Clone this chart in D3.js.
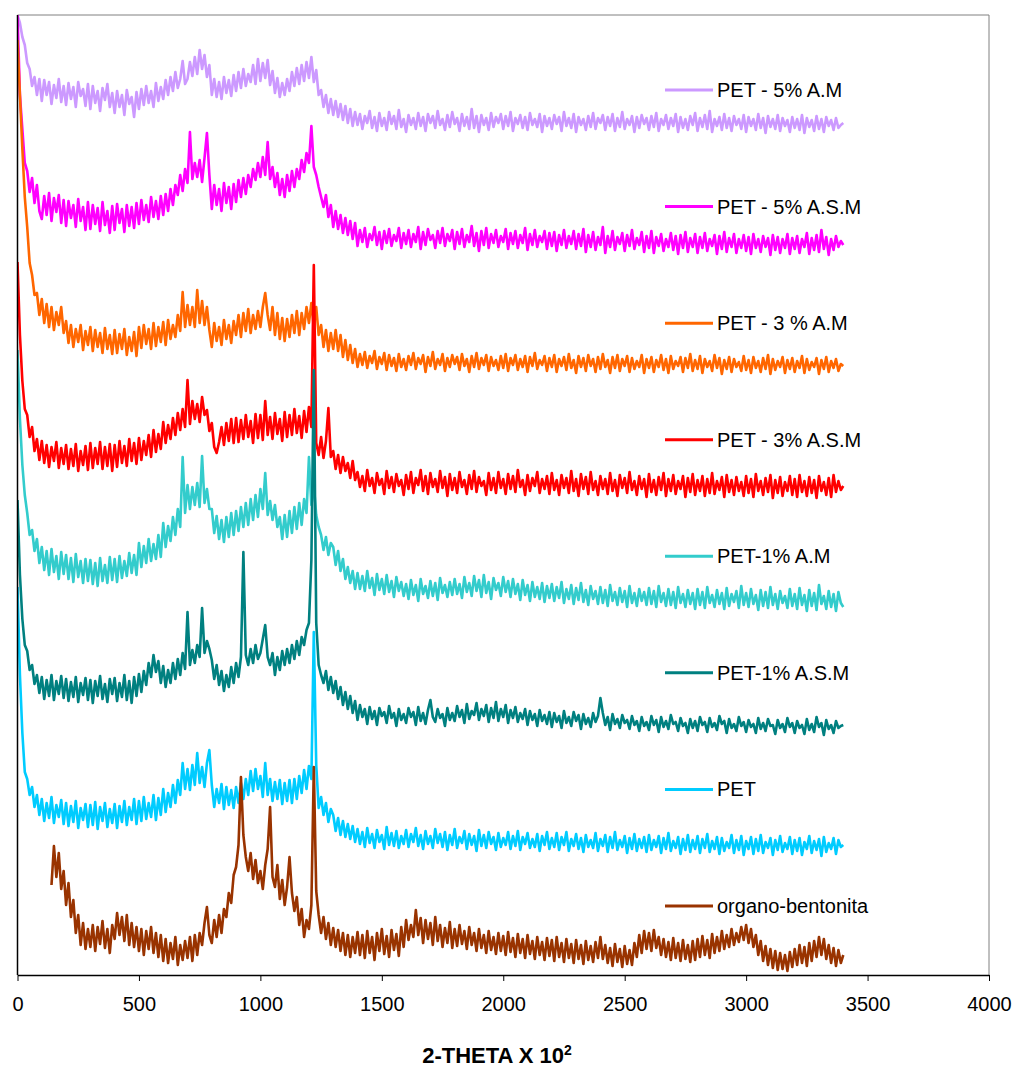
<!DOCTYPE html>
<html>
<head>
<meta charset="utf-8">
<script src="https://cdn.jsdelivr.net/npm/d3@7"></script>
<style>
  body { margin: 0; background: #fff; }
  svg text { font-family: Arial, "Liberation Sans", sans-serif; }
</style>
</head>
<body>
<div id="chart"></div>
<script>
// 2-theta grid: each series read every 10 units (x 10^-2 deg)
var STEP = 10

var xTicks = [0, 500, 1000, 1500, 2000, 2500, 3000, 3500, 4000]

// intensities with their stacking offsets (arbitrary units), one row = 200 units
var pet5AM = [960, 952, 938, 930, 912, 906, 889, 898, 880, 896,
  874, 895, 880, 893, 871, 890, 877, 896, 873, 889,
  870, 892, 876, 888, 868, 893, 879, 886, 869, 891,
  866, 889, 872, 884, 864, 887, 875, 891, 868, 882,
  862, 884, 868, 880, 860, 885, 871, 878, 858, 883,
  866, 886, 870, 889, 872, 884, 868, 892, 874, 888,
  876, 895, 880, 898, 884, 903, 887, 896, 914, 891,
  896, 913, 899, 918, 901, 925, 906, 920, 898, 910,
  880, 896, 878, 893, 876, 898, 882, 895, 879, 900,
  884, 903, 887, 906, 889, 901, 893, 910, 891, 916,
  894, 912, 897, 915, 890, 904, 882, 897, 878, 892,
  880, 896, 884, 903, 889, 907, 891, 910, 894, 913,
  897, 918, 893, 905, 880, 885, 868, 880, 862, 876,
  860, 874, 858, 871, 855, 869, 852, 866, 849, 863,
  850, 861, 846, 859, 852, 864, 847, 858, 844, 862, 849, 857, 845, 863, 851, 859, 846, 865, 848, 856,
  843, 860, 850, 857, 846, 862, 849, 858, 844, 861, 852, 859, 847, 864, 850, 856, 845, 860, 848, 863,
  851, 857, 844, 861, 849, 858, 846, 866, 847, 859, 843, 860, 850, 857, 845, 862, 848, 858, 852, 861,
  846, 859, 849, 863, 844, 857, 851, 860, 847, 858, 845, 862, 850, 856, 848, 861, 843, 859, 849, 857,
  846, 860, 851, 858, 844, 863, 849, 857, 847, 861, 843, 858, 850, 856, 845, 859, 848, 862, 846, 857,
  852, 860, 845, 858, 849, 861, 844, 857, 848, 863, 846, 856, 850, 859, 843, 858, 847, 860, 851, 857,
  845, 859, 848, 862, 844, 856, 850, 860, 846, 857, 849, 861, 843, 858, 847, 856, 845, 859, 850, 862,
  844, 857, 848, 860, 846, 864, 843, 856, 849, 858, 845, 861, 847, 857, 844, 859, 850, 856, 846, 860,
  843, 858, 849, 856, 845, 861, 847, 857, 842, 859, 848, 856, 846, 860, 844, 857, 849, 855, 843, 858,
  847, 856, 845, 860, 842, 857, 848, 855, 844, 859, 846, 856, 843, 858, 849, 855, 845, 857, 847, 850,
  852]

var pet5ASM = [960, 880, 846, 812, 804, 783, 797, 772, 790, 764,
  756, 779, 760, 782, 754, 777, 763, 780, 752, 775,
  749, 774, 757, 770, 748, 776, 754, 768, 745, 773,
  746, 770, 751, 767, 744, 773, 750, 764, 742, 769,
  745, 771, 752, 766, 743, 770, 749, 768, 747, 772,
  751, 775, 755, 770, 753, 778, 758, 774, 756, 779,
  760, 781, 764, 786, 770, 790, 780, 800, 784, 806,
  792, 843, 796, 812, 798, 815, 793, 817, 842, 800,
  766, 790, 770, 786, 764, 792, 772, 788, 766, 791,
  773, 795, 778, 797, 781, 800, 788, 806, 795, 812,
  798, 818, 800, 833, 796, 808, 788, 802, 780, 796,
  778, 800, 784, 804, 788, 806, 796, 815, 803, 822,
  812, 849, 808, 800, 788, 778, 768, 780, 758, 770,
  748, 764, 746, 760, 742, 757, 740, 754, 736, 752,
  729, 745, 733, 747, 728, 741, 735, 748, 730, 743, 726, 744, 732, 746, 729, 740, 734, 747, 727, 742,
  731, 745, 728, 741, 733, 748, 726, 743, 730, 746, 735, 740, 727, 744, 732, 747, 729, 741, 734, 745,
  726, 743, 731, 746, 728, 740, 733, 749, 729, 742, 724, 744, 730, 747, 727, 741, 732, 745, 728, 739,
  733, 746, 726, 742, 731, 744, 727, 740, 732, 747, 725, 741, 730, 745, 728, 739, 733, 744, 726, 742,
  729, 743, 724, 740, 730, 745, 727, 739, 731, 744, 726, 741, 729, 746, 723, 740, 728, 743, 725, 738,
  730, 748, 722, 739, 728, 744, 725, 738, 731, 742, 724, 740, 729, 745, 726, 737, 730, 743, 723, 739,
  727, 744, 722, 738, 729, 741, 724, 736, 728, 742, 725, 739, 721, 740, 727, 743, 723, 737, 728, 741,
  722, 738, 727, 742, 724, 736, 729, 740, 721, 739, 726, 743, 723, 737, 728, 741, 722, 736, 727, 740,
  724, 738, 721, 741, 727, 736, 723, 739, 728, 737, 720, 740, 725, 738, 722, 736, 727, 741, 721, 737,
  726, 739, 722, 736, 728, 742, 721, 737, 725, 740, 723, 745, 726, 738, 720, 736, 725, 739, 728, 734,
  730]

var pet3AM = [935, 880, 826, 778, 748, 712, 700, 680, 682, 660,
  676, 652, 671, 648, 668, 645, 663, 650, 668, 642,
  654, 632, 650, 628, 646, 633, 650, 625, 644, 630,
  648, 624, 645, 628, 642, 622, 647, 626, 640, 621,
  645, 622, 641, 626, 646, 620, 638, 624, 643, 619,
  648, 627, 650, 631, 646, 626, 652, 629, 648, 633,
  653, 630, 655, 636, 650, 638, 660, 644, 683, 648,
  670, 650, 668, 648, 685, 652, 674, 650, 668, 645,
  628, 652, 634, 648, 630, 655, 636, 650, 632, 654,
  640, 660, 638, 662, 644, 666, 642, 660, 646, 664,
  648, 668, 682, 660, 645, 668, 640, 662, 636, 657,
  634, 656, 638, 660, 642, 664, 640, 662, 646, 668,
  652, 672, 648, 668, 640, 650, 628, 645, 624, 642,
  626, 645, 624, 640, 618, 635, 615, 630, 612, 626,
  608, 621, 610, 623, 607, 619, 612, 624, 606, 618, 611, 622, 605, 620, 609, 617, 604, 621, 608, 616,
  605, 619, 610, 622, 606, 617, 611, 620, 603, 618, 609, 623, 606, 616, 610, 621, 604, 617, 608, 620,
  611, 618, 605, 621, 609, 616, 603, 619, 608, 622, 606, 617, 610, 620, 604, 618, 609, 615, 605, 619,
  607, 621, 604, 617, 610, 620, 605, 616, 608, 619, 603, 618, 609, 622, 606, 615, 610, 619, 604, 617,
  608, 620, 603, 616, 609, 618, 605, 621, 607, 615, 602, 619, 608, 617, 604, 620, 609, 616, 603, 618,
  606, 621, 608, 615, 602, 618, 607, 620, 604, 616, 609, 619, 603, 617, 606, 614, 608, 620, 602, 616,
  607, 618, 603, 615, 608, 620, 605, 616, 602, 619, 606, 614, 609, 618, 603, 617, 607, 621, 604, 615,
  606, 619, 602, 616, 608, 614, 604, 620, 607, 617, 601, 615, 606, 618, 603, 616, 608, 613, 604, 619,
  605, 615, 602, 618, 607, 614, 603, 617, 606, 620, 601, 616, 605, 614, 608, 618, 602, 615, 606, 617,
  603, 614, 607, 619, 602, 616, 605, 613, 608, 617, 601, 615, 606, 618, 603, 614, 607, 616, 604, 611,
  609]

var pet3ASM = [713, 640, 594, 566, 560, 538, 548, 524, 536, 515,
  534, 512, 530, 508, 528, 514, 533, 507, 527, 511,
  530, 506, 526, 509, 531, 504, 524, 510, 529, 505,
  532, 507, 527, 511, 533, 506, 528, 509, 531, 504,
  530, 508, 534, 512, 529, 509, 536, 514, 532, 511,
  537, 515, 534, 520, 540, 518, 545, 523, 541, 526,
  553, 532, 550, 536, 557, 540, 562, 545, 566, 548,
  595, 551, 574, 556, 571, 553, 578, 560, 565, 544,
  552, 528, 522, 533, 548, 530, 552, 534, 556, 532,
  557, 533, 555, 536, 560, 538, 554, 532, 561, 537,
  560, 535, 574, 540, 558, 536, 562, 541, 556, 534,
  563, 538, 560, 540, 566, 542, 559, 537, 564, 543,
  568, 548, 710, 532, 520, 538, 517, 534, 567, 518,
  524, 506, 520, 502, 518, 504, 512, 497, 514, 495,
  503, 488, 499, 484, 505, 489, 497, 482, 502, 490, 496, 481, 504, 487, 498, 483, 501, 489, 495, 480,
  500, 486, 503, 482, 497, 490, 505, 484, 499, 481, 502, 488, 496, 483, 504, 487, 498, 479, 501, 485,
  497, 482, 503, 488, 495, 481, 500, 486, 504, 483, 498, 489, 494, 480, 502, 485, 497, 482, 503, 487,
  496, 481, 501, 486, 499, 483, 505, 488, 495, 480, 500, 484, 497, 489, 503, 482, 496, 486, 499, 481,
  502, 485, 495, 480, 500, 487, 497, 482, 504, 484, 496, 479, 501, 486, 498, 481, 503, 485, 494, 480,
  499, 486, 496, 481, 502, 484, 495, 479, 500, 487, 497, 482, 503, 485, 494, 480, 499, 486, 496, 478,
  501, 483, 495, 480, 498, 485, 502, 479, 496, 484, 500, 481, 494, 486, 499, 478, 497, 483, 501, 480,
  495, 484, 499, 479, 496, 482, 502, 481, 494, 485, 498, 478, 500, 483, 495, 480, 498, 484, 493, 479,
  499, 482, 496, 478, 501, 484, 494, 480, 497, 483, 500, 477, 495, 482, 498, 479, 493, 484, 499, 480,
  496, 478, 500, 483, 494, 479, 498, 482, 495, 477, 499, 484, 493, 480, 497, 478, 500, 483, 494, 485,
  489]

var pet1AM = [625, 556, 510, 480, 462, 440, 445, 424, 436, 412,
  428, 405, 424, 400, 426, 403, 419, 396, 423, 401,
  420, 396, 417, 393, 421, 398, 414, 392, 416, 394,
  415, 391, 412, 389, 417, 394, 410, 392, 418, 395,
  416, 393, 419, 397, 414, 399, 422, 402, 420, 400,
  432, 408, 429, 412, 436, 414, 431, 416, 440, 418,
  452, 428, 449, 434, 458, 440, 466, 448, 518, 462,
  490, 466, 488, 470, 492, 468, 519, 472, 486, 466,
  466, 442, 459, 436, 455, 433, 458, 438, 462, 440,
  464, 444, 468, 448, 472, 450, 476, 455, 480, 458,
  486, 466, 502, 460, 474, 455, 470, 448, 458, 436,
  460, 438, 464, 442, 468, 446, 472, 450, 476, 462,
  518, 470, 490, 460, 448, 440, 425, 438, 420, 432,
  428, 410, 424, 404, 416, 396, 408, 392, 404, 386,
  402, 386, 399, 384, 404, 387, 397, 380, 401, 385, 396, 381, 400, 383, 394, 378, 398, 384, 393, 379,
  391, 376, 395, 380, 390, 374, 396, 381, 389, 377, 394, 379, 392, 375, 397, 382, 390, 378, 393, 380,
  396, 381, 391, 377, 398, 383, 392, 379, 399, 384, 395, 378, 400, 382, 393, 376, 397, 385, 392, 379,
  398, 383, 394, 378, 396, 381, 391, 375, 395, 380, 390, 374, 393, 378, 388, 376, 392, 373, 389, 377,
  391, 374, 388, 377, 393, 372, 386, 376, 390, 371, 387, 375, 392, 373, 385, 370, 389, 376, 384, 371,
  388, 372, 385, 369, 390, 374, 383, 370, 387, 373, 384, 368, 389, 372, 382, 369, 386, 374, 383, 370,
  387, 371, 384, 368, 389, 373, 382, 369, 386, 370, 383, 367, 388, 372, 381, 368, 385, 371, 382, 366,
  386, 370, 383, 367, 388, 372, 380, 368, 385, 371, 382, 366, 387, 369, 381, 373, 384, 367, 389, 370,
  382, 368, 386, 371, 380, 365, 385, 369, 383, 367, 388, 370, 381, 366, 384, 372, 379, 367, 386, 369,
  381, 366, 387, 370, 380, 364, 385, 369, 382, 365, 390, 371, 379, 366, 384, 368, 381, 364, 383, 372,
  368]

var pet1ASM = [475, 400, 356, 330, 324, 305, 310, 291, 300, 282,
  298, 276, 295, 279, 300, 275, 294, 281, 299, 277,
  296, 274, 293, 278, 298, 273, 292, 280, 297, 275,
  295, 272, 294, 279, 299, 276, 291, 273, 296, 281,
  297, 274, 292, 278, 300, 275, 294, 272, 298, 279,
  301, 283, 304, 290, 312, 298, 320, 303, 314, 292,
  309, 288, 305, 292, 312, 296, 316, 300, 322, 306,
  363, 310, 325, 312, 330, 318, 367, 322, 334, 326,
  315, 296, 310, 290, 304, 284, 300, 288, 308, 292,
  312, 298, 318, 423, 320, 310, 326, 312, 330, 316,
  322, 336, 350, 318, 310, 322, 300, 318, 305, 324,
  310, 326, 312, 330, 316, 334, 320, 338, 330, 345,
  352, 415, 605, 352, 310, 300, 292, 304, 285, 298,
  282, 294, 276, 288, 270, 283, 266, 279, 262, 274,
  255, 270, 258, 266, 251, 268, 256, 264, 250, 267, 259, 263, 252, 269, 257, 262, 249, 266, 255, 261,
  252, 267, 258, 263, 250, 268, 254, 262, 251, 265, 275, 258, 253, 266, 257, 261, 249, 267, 255, 262,
  254, 269, 258, 265, 252, 271, 256, 264, 260, 272, 255, 266, 259, 270, 253, 267, 257, 273, 254, 266,
  258, 270, 252, 265, 257, 268, 253, 262, 256, 266, 250, 264, 255, 261, 249, 265, 254, 260, 251, 263,
  248, 262, 253, 259, 247, 264, 252, 258, 249, 263, 254, 260, 246, 261, 251, 257, 248, 262, 253, 259,
  277, 262, 250, 258, 245, 261, 251, 256, 247, 260, 252, 255, 246, 259, 250, 254, 244, 258, 249, 253,
  245, 259, 250, 255, 243, 258, 248, 254, 246, 260, 251, 253, 244, 257, 249, 252, 242, 256, 247, 254,
  244, 258, 250, 253, 243, 257, 248, 252, 245, 259, 251, 254, 242, 256, 247, 251, 244, 258, 249, 253,
  243, 255, 248, 251, 242, 257, 246, 252, 244, 256, 249, 250, 241, 255, 247, 251, 243, 257, 248, 252,
  242, 254, 247, 250, 241, 256, 245, 251, 243, 258, 248, 252, 240, 255, 246, 250, 242, 254, 247, 249,
  250]

var pet = [388, 300, 242, 203, 196, 180, 188, 168, 180, 160,
  176, 154, 172, 157, 178, 152, 170, 158, 175, 151,
  172, 149, 169, 153, 174, 147, 167, 155, 171, 148,
  170, 150, 173, 146, 168, 154, 172, 148, 166, 152,
  171, 147, 169, 153, 174, 150, 168, 155, 176, 151,
  174, 154, 178, 156, 172, 158, 180, 155, 177, 160,
  186, 163, 182, 168, 190, 172, 195, 180, 212, 186,
  206, 185, 210, 190, 222, 192, 208, 188, 212, 225,
  190, 168, 186, 172, 191, 166, 188, 170, 185, 167,
  188, 172, 192, 176, 196, 180, 204, 184, 206, 186,
  199, 178, 212, 180, 196, 174, 193, 176, 195, 171,
  192, 174, 195, 172, 196, 176, 199, 182, 205, 186,
  209, 196, 343, 210, 167, 178, 160, 172, 153, 166,
  160, 144, 157, 140, 154, 138, 151, 136, 149, 133,
  146, 131, 143, 128, 147, 132, 141, 127, 145, 133, 140, 126, 148, 130, 142, 129, 144, 127, 139, 131,
  145, 128, 141, 133, 147, 129, 140, 126, 144, 131, 139, 127, 146, 132, 141, 128, 143, 125, 140, 130,
  146, 127, 138, 132, 144, 126, 141, 130, 139, 124, 145, 129, 140, 127, 143, 131, 138, 125, 142, 128,
  137, 130, 143, 126, 139, 129, 144, 125, 138, 131, 142, 127, 136, 128, 141, 124, 139, 130, 143, 126,
  137, 128, 142, 125, 138, 130, 143, 124, 136, 129, 141, 126, 137, 123, 140, 128, 135, 127, 142, 124,
  136, 129, 140, 123, 138, 127, 143, 125, 135, 128, 139, 122, 137, 126, 141, 124, 136, 127, 138, 123,
  140, 125, 135, 128, 139, 122, 137, 126, 142, 124, 134, 127, 138, 121, 136, 125, 140, 123, 135, 126,
  139, 122, 136, 127, 141, 123, 134, 126, 138, 121, 137, 124, 133, 127, 140, 122, 135, 125, 139, 120,
  134, 126, 138, 121, 136, 124, 140, 122, 133, 127, 137, 120, 135, 125, 139, 123, 132, 126, 138, 121,
  135, 124, 137, 120, 133, 126, 139, 122, 134, 125, 136, 119, 138, 123, 132, 126, 137, 121, 135, 128,
  130]

// organo-bentonita is only recorded from 140 on
var organoBentonita = [90, 129, 98, 122, 86, 104,
  70, 92, 58, 75, 42, 60, 30, 52, 26, 46,
  28, 50, 24, 48, 31, 54, 27, 46, 22, 50,
  36, 62, 40, 58, 34, 60, 30, 52, 28, 48,
  24, 46, 20, 44, 26, 48, 22, 42, 18, 40,
  14, 36, 12, 32, 16, 38, 10, 30, 15, 34,
  17, 38, 14, 40, 20, 42, 30, 52, 68, 40,
  32, 55, 38, 60, 42, 66, 58, 82, 72, 100,
  108, 130, 198, 140, 118, 104, 122, 96, 115, 92,
  104, 86, 110, 126, 168, 98, 88, 110, 76, 95,
  70, 88, 118, 82, 64, 78, 50, 66, 38, 55,
  46, 70, 208, 84, 60, 42, 58, 36, 52, 30,
  47, 28, 45, 24, 42, 20, 40, 18, 38, 22,
  43, 20, 40, 17, 44, 22, 38, 15, 42, 24, 46, 21, 39, 18, 45, 25, 41, 19, 48, 28,
  55, 35, 50, 38, 65, 40, 57, 32, 55, 36, 52, 30, 58, 34, 50, 28, 47, 32, 53, 27,
  46, 29, 50, 31, 44, 26, 48, 30, 42, 24, 46, 27, 40, 22, 44, 25, 38, 21, 42, 24,
  39, 20, 43, 23, 37, 18, 41, 22, 36, 17, 40, 21, 34, 16, 38, 20, 33, 15, 37, 19,
  35, 14, 38, 18, 32, 13, 36, 17, 31, 12, 35, 16, 30, 11, 34, 15, 29, 13, 33, 17,
  38, 16, 30, 12, 27, 9, 31, 13, 26, 8, 29, 11, 25, 10, 32, 18, 40, 22, 44, 26,
  42, 24, 45, 27, 38, 20, 36, 18, 33, 15, 37, 17, 32, 14, 35, 16, 30, 13, 34, 15,
  36, 18, 39, 20, 35, 17, 41, 22, 38, 24, 44, 26, 40, 28, 46, 30, 42, 33, 48, 35,
  50, 32, 46, 28, 40, 20, 34, 14, 29, 10, 26, 7, 24, 5, 22, 6, 20, 4, 23, 8,
  26, 10, 30, 12, 28, 9, 32, 14, 34, 18, 38, 20, 36, 16, 30, 12, 27, 9, 25, 12,
  20]

var seriesNames = ['PET - 5% A.M', 'PET - 5% A.S.M', 'PET - 3 % A.M', 'PET - 3% A.S.M',
  'PET-1% A.M', 'PET-1% A.S.M', 'PET', 'organo-bentonita']
var seriesColors = ['#CC99FF', '#FF00FF', '#FF6600', '#FF0000',
  '#33CCCC', '#008080', '#00CCFF', '#993300']
var seriesStart = [0, 0, 0, 0, 0, 0, 0, 140]
var seriesValues = [pet5AM, pet5ASM, pet3AM, pet3ASM, pet1AM, pet1ASM, pet, organoBentonita]

var W = 1017, H = 1071
var plot = { left: 17.5, right: 989, top: 15, bottom: 975 }

var svg = d3.select('#chart').append('svg')
    .attr('width', W)
    .attr('height', H)

var x = d3.scaleLinear().domain([0, 4000]).range([plot.left, plot.right])
var y = d3.scaleLinear().domain([0, 960]).range([plot.bottom, plot.top])

svg.append('clipPath').attr('id', 'clip')
  .append('rect')
    .attr('x', plot.left).attr('y', plot.top)
    .attr('width', plot.right - plot.left).attr('height', plot.bottom - plot.top)

// frame (top + right are grey)
svg.append('path')
    .attr('d', 'M' + plot.left + ',' + plot.top + 'H' + plot.right + 'V' + plot.bottom)
    .attr('fill', 'none')
    .attr('stroke', '#808080')
    .attr('stroke-width', 1)

var series = seriesNames.map(function(name, k) {
  return { name: name, color: seriesColors[k], start: seriesStart[k], values: seriesValues[k] }
})

var g_lines = svg.append('g').attr('clip-path', 'url(#clip)')

g_lines.selectAll('path')
  .data(series)
  .enter().append('path')
    .attr('d', function(s) {
      return d3.line()
        .x(function(d, i) { return x(s.start + i * STEP) })
        .y(function(d) { return y(d) })(s.values)
    })
    .attr('fill', 'none')
    .attr('stroke', function(s) { return s.color })
    .attr('stroke-width', 2.6)
    .attr('stroke-linejoin', 'round')

// axes
var xAxis = d3.axisBottom(x)
    .tickValues(xTicks)
    .tickFormat(d3.format('d'))
    .tickSize(6)
    .tickSizeOuter(0)

var gx = svg.append('g')
    .attr('transform', 'translate(0,' + plot.bottom + ')')
    .call(xAxis)
gx.select('.domain').attr('stroke', '#000').attr('stroke-width', 1.5)
gx.selectAll('.tick line').attr('stroke', '#000').attr('stroke-width', 1)
gx.selectAll('.tick text')
    .attr('y', 36)
    .attr('dy', 0)
    .attr('fill', '#000')
    .style('font-size', '20px')

svg.append('line')
    .attr('x1', plot.left).attr('x2', plot.left)
    .attr('y1', plot.top).attr('y2', plot.bottom)
    .attr('stroke', '#000')
    .attr('stroke-width', 1.5)

var title = svg.append('text')
    .attr('x', 497)
    .attr('y', 1063)
    .attr('text-anchor', 'middle')
    .style('font-size', '22px')
    .style('font-weight', 'bold')
    .text('2-THETA X 10')
title.append('tspan')
    .attr('dy', '-0.55em')
    .style('font-size', '14px')
    .text('2')

// legend
var legY = d3.scalePoint().domain(seriesNames).range([90, 906])

var items = svg.append('g').attr('class', 'legend')
  .selectAll('g')
  .data(series)
  .enter().append('g')
    .attr('transform', function(s) { return 'translate(665,' + legY(s.name) + ')' })

items.append('line')
    .attr('x1', 0).attr('x2', 48)
    .attr('stroke', function(s) { return s.color })
    .attr('stroke-width', 3)

items.append('text')
    .attr('x', 52)
    .attr('dy', '0.35em')
    .style('font-size', '20px')
    .attr('fill', '#000')
    .text(function(s) { return s.name })
</script>
</body>
</html>
